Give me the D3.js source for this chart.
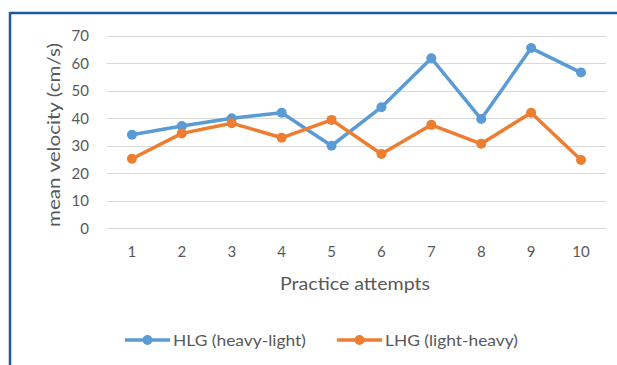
<!DOCTYPE html>
<html>
<head>
<meta charset="utf-8">
<script src="https://cdn.jsdelivr.net/npm/d3@7/dist/d3.min.js"></script>
<style>
  html, body { margin: 0; padding: 0; background: #fff; }
  svg { display: block; }
  text { font-family: Lato, "Open Sans", sans-serif; fill: #595959; }
</style>
</head>
<body>
<svg id="chart" width="617" height="365"></svg>
<script>
// Mean velocity per practice attempt for the two training groups
const attempts = [1, 2, 3, 4, 5, 6, 7, 8, 9, 10];
const hlgValues = [34, 37.2, 40, 42, 30, 44, 61.8, 39.7, 65.5, 56.6];
const lhgValues = [25.3, 34.5, 38.2, 32.9, 39.4, 27, 37.6, 30.7, 42, 24.8];
const yTicks = [0, 10, 20, 30, 40, 50, 60, 70];
const seriesNames = ["HLG (heavy-light)", "LHG (light-heavy)"];
const seriesColors = ["#5B9BD5", "#ED7D31"];

const svg = d3.select("#chart");

// frame edges (top and left)
svg.append("line").attr("x1", 10).attr("x2", 617).attr("y1", 13).attr("y2", 13)
  .attr("stroke", "#1f5a9e").attr("stroke-width", 2.5);
svg.append("line").attr("x1", 10).attr("x2", 10).attr("y1", 12).attr("y2", 365)
  .attr("stroke", "#1f5a9e").attr("stroke-width", 2.5);

const plot = { left: 107, right: 606, top: 35.7, bottom: 228.3 };

const x = d3.scaleBand().domain(attempts).range([plot.left, plot.right]);
const y = d3.scaleLinear().domain([0, 70]).range([plot.bottom, plot.top]);

// horizontal gridlines
svg.append("g").selectAll("line").data(yTicks).join("line")
  .attr("x1", plot.left).attr("x2", plot.right)
  .attr("y1", d => Math.round(y(d)) + 0.5).attr("y2", d => Math.round(y(d)) + 0.5)
  .attr("stroke", "#d9d9d9").attr("stroke-width", 1);

// y axis labels
const yAxis = d3.axisLeft(y).tickValues(yTicks).tickSize(0).tickPadding(0);
const gy = svg.append("g").attr("transform", "translate(89,0)").call(yAxis);
gy.select(".domain").remove();
gy.selectAll("text").style("font-size", "15px").attr("fill", "#595959")
  .style("font-family", "Lato, sans-serif");

// x axis labels
const xAxis = d3.axisBottom(x).tickSize(0).tickPadding(0);
const gx = svg.append("g").attr("transform", "translate(0,246)").call(xAxis);
gx.select(".domain").remove();
gx.selectAll("text").style("font-size", "15px").attr("fill", "#595959")
  .style("font-family", "Lato, sans-serif");

// axis titles
svg.append("text").attr("x", 355).attr("y", 290).attr("text-anchor", "middle")
  .style("font-size", "17px")
  .attr("textLength", 150).attr("lengthAdjust", "spacingAndGlyphs")
  .text("Practice attempts");
svg.append("text").attr("transform", "translate(60,135) rotate(-90)")
  .attr("text-anchor", "middle").style("font-size", "17px")
  .attr("textLength", 184).attr("lengthAdjust", "spacingAndGlyphs")
  .text("mean velocity (cm/s)");

// series lines and markers
const series = [hlgValues, lhgValues];
const line = d3.line()
  .x((d, i) => x(attempts[i]) + x.bandwidth() / 2)
  .y(d => y(d));

series.forEach((vals, s) => {
  svg.append("path").datum(vals)
    .attr("d", line).attr("fill", "none")
    .attr("stroke", seriesColors[s]).attr("stroke-width", 3.5)
    .attr("stroke-linejoin", "round");
  svg.append("g").selectAll("circle").data(vals).join("circle")
    .attr("cx", (d, i) => x(attempts[i]) + x.bandwidth() / 2)
    .attr("cy", d => y(d)).attr("r", 5)
    .attr("fill", seriesColors[s]);
});

// legend
const legendItems = [
  { x0: 125, x1: 170, tx: 173 },
  { x0: 337, x1: 382, tx: 385 }
];
legendItems.forEach((it, s) => {
  const g = svg.append("g");
  g.append("line").attr("x1", it.x0).attr("x2", it.x1).attr("y1", 340).attr("y2", 340)
    .attr("stroke", seriesColors[s]).attr("stroke-width", 3.5);
  g.append("circle").attr("cx", (it.x0 + it.x1) / 2).attr("cy", 340).attr("r", 5)
    .attr("fill", seriesColors[s]);
  g.append("text").attr("x", it.tx).attr("y", 346).style("font-size", "16px")
    .attr("textLength", 133).attr("lengthAdjust", "spacingAndGlyphs")
    .text(seriesNames[s]);
});
</script>
</body>
</html>
